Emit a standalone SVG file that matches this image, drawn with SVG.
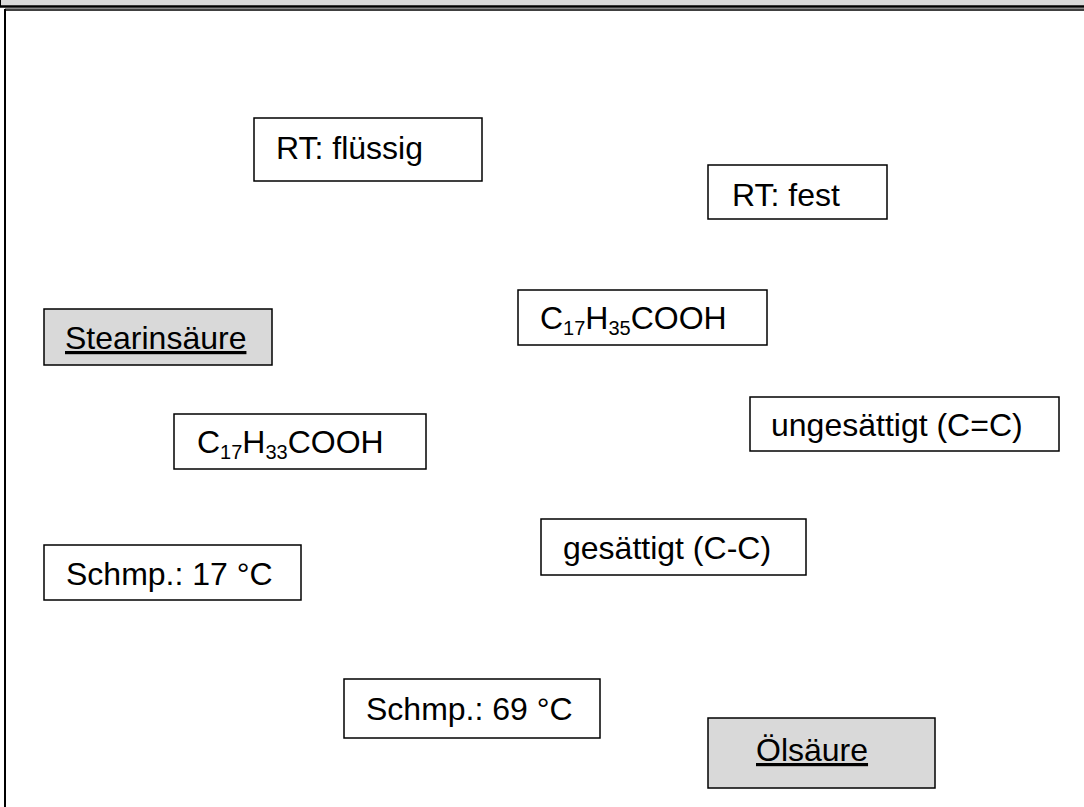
<svg xmlns="http://www.w3.org/2000/svg" width="1084" height="807" viewBox="0 0 1084 807">
<style>
.box{fill:#ffffff;stroke:#000;stroke-width:1.5}
.gbox{fill:#d9d9d9;stroke:#000;stroke-width:1.5}
.t{font-family:"Liberation Sans",Arial,sans-serif;font-size:32px;fill:#000}
.u{text-decoration:underline}
.sub{font-size:20px}
</style>
<rect x="0" y="0" width="1084" height="807" fill="#ffffff"/>
<g id="frame">
<rect x="0" y="0" width="1084" height="6" fill="#d9d9d9"/>
<line x1="0.5" y1="0" x2="0.5" y2="6" stroke="#000" stroke-width="1"/>
<line x1="0" y1="6.5" x2="1084" y2="6.5" stroke="#000" stroke-width="2.5"/>
<line x1="5" y1="8.5" x2="1084" y2="8.5" stroke="#888" stroke-width="1"/>
<line x1="5" y1="10" x2="1084" y2="10" stroke="#000" stroke-width="1.5"/>
<line x1="5" y1="9" x2="5" y2="807" stroke="#000" stroke-width="2"/>
</g>
<g id="connectors"></g>
<g id="n-rt-fluessig">
<rect class="box" x="254" y="118" width="228" height="63"/>
<text class="t" x="276" y="159">RT: flüssig</text>
</g>
<g id="n-rt-fest">
<rect class="box" x="708" y="165" width="179" height="54"/>
<text class="t" x="732" y="206">RT: fest</text>
</g>
<g id="n-stearinsaeure">
<rect class="gbox" x="44" y="309" width="228" height="56"/>
<text class="t u" x="65" y="349">Stearinsäure</text>
</g>
<g id="n-c17h35cooh">
<rect class="box" x="518" y="290" width="249" height="55"/>
<text class="t" x="540" y="329">C<tspan class="sub" dy="6">17</tspan><tspan dy="-6">H</tspan><tspan class="sub" dy="6">35</tspan><tspan dy="-6">COOH</tspan></text>
</g>
<g id="n-c17h33cooh">
<rect class="box" x="174" y="414" width="252" height="55"/>
<text class="t" x="197" y="453">C<tspan class="sub" dy="6">17</tspan><tspan dy="-6">H</tspan><tspan class="sub" dy="6">33</tspan><tspan dy="-6">COOH</tspan></text>
</g>
<g id="n-ungesaettigt">
<rect class="box" x="750" y="397" width="309" height="54"/>
<text class="t" x="771" y="436">ungesättigt (C=C)</text>
</g>
<g id="n-schmp17">
<rect class="box" x="44" y="545" width="257" height="55"/>
<text class="t" x="66" y="585">Schmp.: 17 °C</text>
</g>
<g id="n-gesaettigt">
<rect class="box" x="541" y="519" width="265" height="56"/>
<text class="t" x="563" y="559">gesättigt (C-C)</text>
</g>
<g id="n-schmp69">
<rect class="box" x="344" y="679" width="256" height="59"/>
<text class="t" x="366" y="720">Schmp.: 69 °C</text>
</g>
<g id="n-oelsaeure">
<rect class="gbox" x="708" y="718" width="227" height="70"/>
<text class="t u" x="756" y="761">Ölsäure</text>
</g>
</svg>
